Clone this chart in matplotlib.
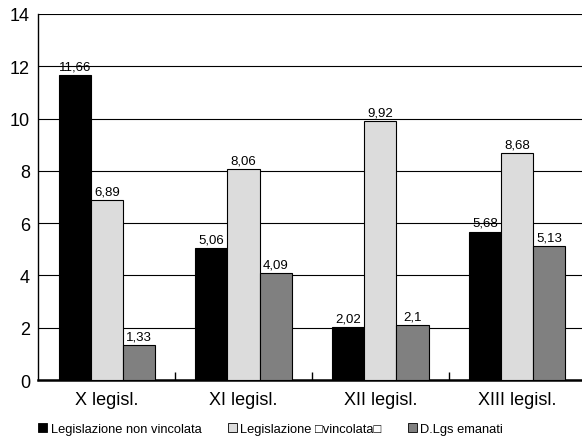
import numpy as np
import matplotlib
matplotlib.use("Agg")
import matplotlib.pyplot as plt
from matplotlib.patches import Patch

plt.rcParams['font.family'] = ['Liberation Sans', 'DejaVu Sans']

# === Data ===
legislature = ["X legisl.", "XI legisl.", "XII legisl.", "XIII legisl."]
non_vincolata = [11.66, 5.06, 2.02, 5.68]
vincolata = [6.89, 8.06, 9.92, 8.68]
dlgs_emanati = [1.33, 4.09, 2.1, 5.13]
series_names = ["Legislazione non vincolata", "Legislazione \u25a1vincolata\u25a1", "D.Lgs emanati"]
colors = ["#000000", "#dcdcdc", "#808080"]

def fmt(v):
    return f"{v:g}".replace(".", ",")

fig = plt.figure(figsize=(5.82, 4.39), dpi=100)
ax = fig.add_axes([0.066, 0.132, 0.94, 0.834])

x = np.arange(len(legislature))
w = 0.235
for i, (vals, col) in enumerate(zip([non_vincolata, vincolata, dlgs_emanati], colors)):
    pos = x + (i - 1) * w
    ax.bar(pos, vals, width=w, color=col, edgecolor="black", linewidth=0.8, zorder=3)
    for p, v in zip(pos, vals):
        ax.text(p, v + 0.1, fmt(v), ha="center", va="bottom", fontsize=9.5, zorder=4)

ax.set_ylim(0, 14)
ax.set_yticks(range(0, 15, 2))
ax.set_xlim(-0.5, len(legislature) - 0.5)
ax.set_xticks(x)
ax.set_xticklabels(legislature)
ax.set_xticks(np.arange(0.5, len(legislature) - 0.5), minor=True)
ax.tick_params(axis="x", which="major", length=0, labelsize=13, pad=8)
ax.tick_params(axis="x", which="minor", direction="in", length=6, width=1)
ax.tick_params(axis="y", length=0, labelsize=13, pad=6)
ax.yaxis.grid(True, color="black", linewidth=0.8, zorder=0)

for s in ["top", "right"]:
    ax.spines[s].set_visible(False)
ax.spines["left"].set_linewidth(1.0)
ax.spines["bottom"].set_linewidth(1.8)

handles = [Patch(facecolor=c, edgecolor="black", linewidth=0.6) for c in colors]
fig.legend(handles, series_names, loc="lower center", bbox_to_anchor=(0.465, -0.02),
           ncol=3, frameon=False, fontsize=9.3, handlelength=0.7, handleheight=0.7,
           handletextpad=0.3, columnspacing=2.0)

fig.savefig("out.png", dpi=100)
